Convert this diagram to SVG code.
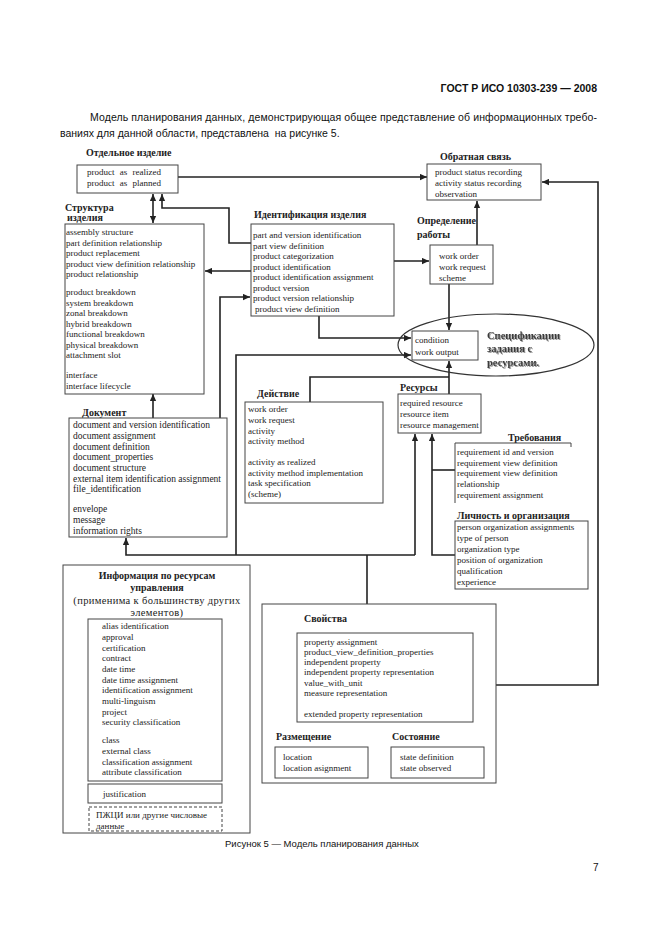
<svg xmlns="http://www.w3.org/2000/svg" width="661" height="936" viewBox="0 0 661 936">
<style>
.bg{fill:#fff}
.box{fill:#fff;stroke:#444;stroke-width:1}
.dash{fill:#fff;stroke:#444;stroke-width:1;stroke-dasharray:3 2}
.t{font-family:"Liberation Serif",serif;font-size:9px;fill:#222}
.d{font-family:"Liberation Serif",serif;font-size:9.5px;fill:#222}
.p{font-family:"Liberation Serif",serif;font-size:10.5px;letter-spacing:0.35px;fill:#222}
.h{font-family:"Liberation Serif",serif;font-size:10px;font-weight:bold;fill:#222}
.c{fill:none;stroke:#222;stroke-width:1.6}
.s{font-family:"Liberation Sans",sans-serif;fill:#111}
.spec{font-family:"Liberation Serif",serif;font-size:10.5px;font-weight:bold;fill:#3a3a3a}
</style>
<defs>
<marker id="a" viewBox="0 0 10 10" refX="10" refY="5" markerWidth="9" markerHeight="7" markerUnits="userSpaceOnUse" orient="auto-start-reverse">
<path d="M0,0.5 L10,5 L0,9.5 z" fill="#222"/>
</marker>
<filter id="sh" x="-10%" y="-10%" width="130%" height="140%">
<feDropShadow dx="1" dy="1" stdDeviation="0.4" flood-color="#999"/>
</filter>
</defs>
<rect class="bg" x="0" y="0" width="661" height="936"/>

<g id="page-text">
<text class="s" x="597" y="92" font-size="10.5" font-weight="bold" text-anchor="end">ГОСТ Р ИСО 10303-239 — 2008</text>
<text class="s" x="90" y="121" font-size="10.5" textLength="507" lengthAdjust="spacing">Модель планирования данных, демонстрирующая общее представление об информационных требо-</text>
<text class="s" x="60" y="137" font-size="10.5">ваниях для данной области, представлена&#160; на рисунке 5.</text>
<text class="s" x="225" y="847" font-size="9.5">Рисунок 5 — Модель планирования данных</text>
<text class="s" x="593" y="871" font-size="10">7</text>
</g>

<g id="connectors">
<path class="c" d="M178,177 H427" marker-end="url(#a)"/>
<path class="c" d="M153,194 V223" marker-start="url(#a)" marker-end="url(#a)"/>
<path class="c" d="M251,243 H229 V208 H162 V194" marker-end="url(#a)"/>
<path class="c" d="M251,271 H205" marker-end="url(#a)"/>
<path class="c" d="M220,418 V297 H250" marker-end="url(#a)"/>
<path class="c" d="M153,418 V394" marker-end="url(#a)"/>
<path class="c" d="M394,261 H429" marker-end="url(#a)"/>
<path class="c" d="M477,245 V201" marker-end="url(#a)"/>
<path class="c" d="M449,284 V330" marker-end="url(#a)"/>
<path class="c" d="M319,316 V338 H411" marker-end="url(#a)"/>
<path class="c" d="M236,555 V355 H411" marker-end="url(#a)"/>
<path class="c" d="M449,394 V361" marker-end="url(#a)"/>
<path class="c" d="M310,402 V377 H449"/>
<path class="c" d="M415,555 V434" marker-end="url(#a)"/>
<path class="c" d="M415,555 H126 V538" marker-end="url(#a)"/>
<path class="c" d="M367,604 V555"/>
<path class="c" d="M455,555 H432 V434" marker-end="url(#a)"/>
<path class="c" d="M455,470 H432"/>
<path class="c" d="M496,685 H598 V182 H542" marker-end="url(#a)"/>
<path class="c" d="M89,816 H70 V757 H87" marker-end="url(#a)"/>
</g>

<g id="otdelnoe">
<text class="h" x="86" y="156">Отдельное изделие</text>
<rect class="box" x="77" y="165" width="101" height="28"/>
<text class="t" x="87" y="175" word-spacing="3">product as realized</text>
<text class="t" x="87" y="186" word-spacing="3">product as planned</text>
</g>

<g id="obratnaya">
<text class="h" x="440" y="160">Обратная связь</text>
<rect class="box" x="427" y="164" width="114" height="36"/>
<text class="t" x="435" y="175">product status recording</text>
<text class="t" x="435" y="186">activity status recording</text>
<text class="t" x="435" y="197">observation</text>
</g>

<g id="struktura">
<text class="h" x="65" y="211">Структура</text>
<text class="h" x="67" y="221">изделия</text>
<rect class="box" x="65" y="224" width="139" height="170"/>
<text class="t" x="66" y="235">assembly structure</text>
<text class="t" x="66" y="245.5">part definition relationship</text>
<text class="t" x="66" y="256">product replacement</text>
<text class="t" x="66" y="266.5">product view definition relationship</text>
<text class="t" x="66" y="277">product relationship</text>
<text class="t" x="66" y="295">product breakdown</text>
<text class="t" x="66" y="305.5">system breakdown</text>
<text class="t" x="66" y="316">zonal breakdown</text>
<text class="t" x="66" y="326.5">hybrid breakdown</text>
<text class="t" x="66" y="337">functional breakdown</text>
<text class="t" x="66" y="347.5">physical breakdown</text>
<text class="t" x="66" y="358">attachment slot</text>
<text class="t" x="66" y="378">interface</text>
<text class="t" x="66" y="388.5">interface lifecycle</text>
</g>

<g id="identifikaciya">
<text class="h" x="254" y="218">Идентификация изделия</text>
<rect class="box" x="251" y="224" width="143" height="92"/>
<text class="t" x="253" y="238">part and version identification</text>
<text class="t" x="253" y="248.5">part view definition</text>
<text class="t" x="253" y="259">product categorization</text>
<text class="t" x="253" y="269.5">product identification</text>
<text class="t" x="253" y="280">product identification assignment</text>
<text class="t" x="253" y="290.5">product version</text>
<text class="t" x="253" y="301">product version relationship</text>
<text class="t" x="255" y="311.5">product view definition</text>
</g>

<g id="opredelenie">
<text class="h" x="417" y="224">Определение</text>
<text class="h" x="417" y="238">работы</text>
<rect class="box" x="430" y="245" width="63" height="39"/>
<text class="t" x="439" y="259">work order</text>
<text class="t" x="439" y="270">work request</text>
<text class="t" x="439" y="281">scheme</text>
</g>

<g id="specifikacii">
<ellipse cx="496" cy="345" rx="98" ry="31" fill="none" stroke="#333" stroke-width="1.2"/>
<rect class="box" x="412" y="331" width="66" height="29"/>
<text class="t" x="415" y="343">condition</text>
<text class="t" x="415" y="355">work output</text>
<g filter="url(#sh)">
<text class="spec" x="487" y="339">Спецификации</text>
<text class="spec" x="487" y="352">задания с</text>
<text class="spec" x="487" y="366">ресурсами.</text>
</g>
</g>

<g id="dokument">
<text class="h" x="82" y="416">Документ</text>
<rect class="box" x="69" y="418" width="158" height="119"/>
<text class="d" x="73" y="428">document and version identification</text>
<text class="d" x="73" y="439">document assignment</text>
<text class="d" x="73" y="449.5">document definition</text>
<text class="d" x="73" y="460">document_properties</text>
<text class="d" x="73" y="471">document structure</text>
<text class="d" x="73" y="481.5">external item identification assignment</text>
<text class="d" x="73" y="492">file_identification</text>
<text class="d" x="73" y="512">envelope</text>
<text class="d" x="73" y="523">message</text>
<text class="d" x="73" y="534">information rights</text>
</g>

<g id="deistvie">
<text class="h" x="257" y="397">Действие</text>
<rect class="box" x="245" y="402" width="138" height="101"/>
<text class="t" x="248" y="412">work order</text>
<text class="t" x="248" y="423">work request</text>
<text class="t" x="248" y="434">activity</text>
<text class="t" x="248" y="444">activity method</text>
<text class="t" x="248" y="465">activity as realized</text>
<text class="t" x="248" y="476">activity method implementation</text>
<text class="t" x="248" y="486">task specification</text>
<text class="t" x="248" y="497">(scheme)</text>
</g>

<g id="resursy">
<text class="h" x="400" y="391">Ресурсы</text>
<rect class="box" x="398" y="394" width="83" height="39"/>
<text class="t" x="400" y="406">required resource</text>
<text class="t" x="400" y="417">resource item</text>
<text class="t" x="400" y="428">resource management</text>
</g>

<g id="trebovaniya">
<text class="h" x="508" y="441">Требования</text>
<path d="M571,447 V443 H455 V503" fill="none" stroke="#444" stroke-width="1"/>
<text class="t" x="457" y="455">requirement id and version</text>
<text class="t" x="457" y="466">requirement view definition</text>
<text class="t" x="457" y="476">requirement view definition</text>
<text class="t" x="457" y="487">relationship</text>
<text class="t" x="457" y="498">requirement assignment</text>
</g>

<g id="lichnost">
<text class="h" x="457" y="519">Личность и организация</text>
<rect class="box" x="455" y="521" width="133" height="68"/>
<text class="t" x="457" y="530">person organization assignments</text>
<text class="t" x="457" y="541">type of person</text>
<text class="t" x="457" y="552">organization type</text>
<text class="t" x="457" y="563">position of organization</text>
<text class="t" x="457" y="574">qualification</text>
<text class="t" x="457" y="585">experience</text>
</g>

<g id="informaciya">
<rect class="box" x="63" y="565" width="187" height="268"/>
<text class="h" x="157" y="579" text-anchor="middle">Информация по ресурсам</text>
<text class="h" x="157" y="591" text-anchor="middle">управления</text>
<text class="p" x="157" y="604" text-anchor="middle">(применима к большинству других</text>
<text class="p" x="157" y="615.5" text-anchor="middle">элементов)</text>
<rect class="box" x="88" y="619" width="134" height="162"/>
<text class="t" x="102" y="629">alias identification</text>
<text class="t" x="102" y="640">approval</text>
<text class="t" x="102" y="650.5">certification</text>
<text class="t" x="102" y="661">contract</text>
<text class="t" x="102" y="672">date time</text>
<text class="t" x="102" y="682.5">date time assignment</text>
<text class="t" x="102" y="693">identification assignment</text>
<text class="t" x="102" y="704">multi-linguism</text>
<text class="t" x="102" y="714.5">project</text>
<text class="t" x="102" y="725">security classification</text>
<text class="t" x="102" y="743">class</text>
<text class="t" x="102" y="754">external class</text>
<text class="t" x="102" y="764.5">classification assignment</text>
<text class="t" x="102" y="775">attribute classification</text>
<rect class="box" x="88" y="784" width="134" height="19"/>
<text class="t" x="103" y="797">justification</text>
<rect class="dash" x="89" y="807" width="133" height="24"/>
<text class="t" x="96" y="818">ПЖЦИ или другие числовые</text>
<text class="t" x="96" y="829">данные</text>
</g>

<g id="svoistva">
<rect class="box" x="262" y="604" width="234" height="179"/>
<text class="h" x="304" y="622">Свойства</text>
<rect class="box" x="297" y="633" width="176" height="89"/>
<text class="t" x="304" y="645">property assignment</text>
<text class="t" x="304" y="655">product_view_definition_properties</text>
<text class="t" x="304" y="665">independent property</text>
<text class="t" x="304" y="675">independent property representation</text>
<text class="t" x="304" y="686">value_with_unit</text>
<text class="t" x="304" y="696">measure representation</text>
<text class="t" x="304" y="717">extended property representation</text>
<text class="h" x="276" y="740">Размещение</text>
<rect class="box" x="275" y="747" width="93" height="31"/>
<text class="t" x="283" y="760">location</text>
<text class="t" x="283" y="771">location asignment</text>
<text class="h" x="392" y="740">Состояние</text>
<rect class="box" x="391" y="747" width="93" height="31"/>
<text class="t" x="400" y="760">state definition</text>
<text class="t" x="400" y="771">state observed</text>
</g>
</svg>
